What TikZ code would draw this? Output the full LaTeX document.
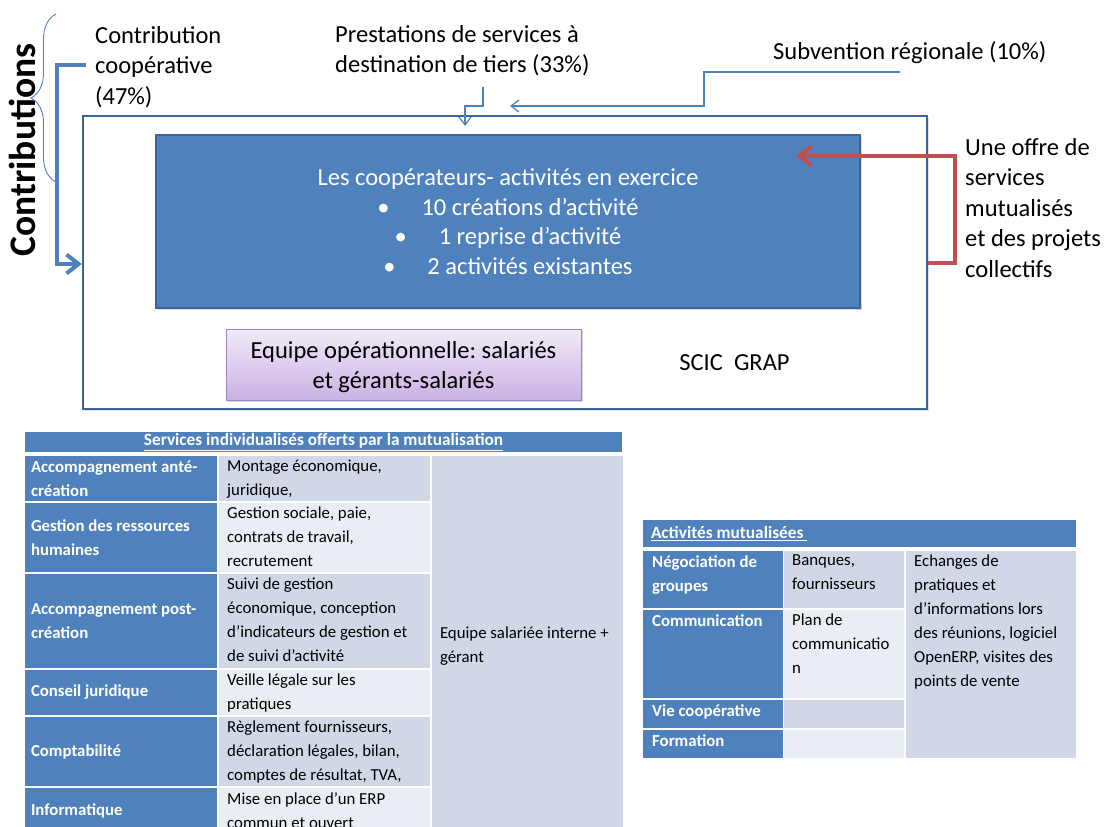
\documentclass[tikz,border=0pt]{standalone}
\usepackage{fontspec}
\setmainfont{Carlito}
\usetikzlibrary{
    positioning,
    arrows.meta,
    decorations.pathreplacing,
    shadows,
    fit
}

\definecolor{accentblue}{HTML}{4F81BD}
\definecolor{frameblue}{HTML}{3D6496}
\definecolor{celldark}{HTML}{D0D8E8}
\definecolor{celllight}{HTML}{E9EDF4}
\definecolor{offerred}{HTML}{C0504D}
\definecolor{lavtop}{HTML}{F1EAF8}
\definecolor{lavbottom}{HTML}{CAB2E3}
\definecolor{lavframe}{HTML}{9E84C2}

\newcommand{\bigfs}{\fontsize{24.5}{30.5}\selectfont}
\newcommand{\tabfs}{\fontsize{16.8}{24}\selectfont}
\frenchspacing

\tikzset{
    lbl/.style={font=\bigfs, align=left, inner sep=0pt},
    cellbox/.style={anchor=north west, inner sep=0pt, outer sep=0pt},
    headcell/.style={cellbox, fill=accentblue, text=white, font=\fontsize{17.3}{24}\selectfont\bfseries},
    keycell/.style={cellbox, fill=accentblue, text=white, font=\tabfs\bfseries, align=flush left, inner xsep=6pt},
    keyA/.style={keycell, minimum width=192pt, text width=180pt},
    keyB/.style={cellbox, fill=accentblue, minimum width=140pt},
    darkcell/.style={cellbox, fill=celldark},
    lightcell/.style={cellbox, fill=celllight},
    celltxt/.style={font=\tabfs, align=left, inner sep=0pt, anchor=north west},
    keytxt/.style={celltxt, text=white, font=\tabfs\bfseries},
    thinflow/.style={accentblue, line width=1.2pt, -{Straight Barb[length=8pt, width=12pt]}},
    coopflow/.style={accentblue, line width=4pt, -{Straight Barb[length=12pt, width=19pt]}},
    offerflow/.style={offerred, line width=4pt, -{Straight Barb[length=12pt, width=19pt]}}
}

\begin{document}
\begin{tikzpicture}[x=1pt, y=-1pt]
    \useasboundingbox (0,0) rectangle (1109,827);
    \clip (0,0) rectangle (1109,827);

    % SCIC frame and its content
    \node[draw=frameblue, line width=2.5pt, fit={(83,116) (927,409)}, inner sep=0pt,
          drop shadow={shadow xshift=1.5pt, shadow yshift=-1.5pt, opacity=0.25}, fill=white] (scic) {};
    \node[fill=accentblue, draw=frameblue, line width=1.5pt, fit={(156,135) (860,308)}, inner sep=0pt,
          drop shadow={shadow xshift=2pt, shadow yshift=-2pt, opacity=0.3}] (members) {};
    \node[text=white, align=center, font=\fontsize{24.5}{29.7}\selectfont] (members-txt) at (members.center)
          {Les coopérateurs- activités en exercice\\
           \textbullet\hspace{1.3em}10 créations d’activité\\
           \textbullet\hspace{1.3em}1 reprise d’activité\\
           \textbullet\hspace{1.3em}2 activités existantes};
    \node[top color=lavtop, bottom color=lavbottom, draw=lavframe, line width=1pt,
          fit={(226,329) (581,400)}, inner sep=0pt,
          drop shadow={shadow xshift=2pt, shadow yshift=-2pt, opacity=0.3}] (crew) {};
    \node[align=center, font=\fontsize{24.5}{30}\selectfont, yshift=-3pt] (crew-txt) at (crew.center)
          {Equipe opérationnelle: salariés\\et gérants-salariés};
    \node[lbl] (grap) at (734.5,363) {SCIC\ \ GRAP};

    % contributions
    \node[rotate=90, font=\fontsize{37.5}{40}\selectfont\bfseries] (contribs) at (22,150) {Contributions};
    \node[lbl, anchor=north west] (coop) at (95,26) {Contribution\\coopérative\\(47\%)};
    \node[lbl, anchor=north west] (presta) at (335,25) {Prestations de services à\\destination de tiers (33\%)};
    \node[lbl, anchor=base west] (subv) at (773,59) {Subvention régionale (10\%)};
    \node[lbl, anchor=north west] (offer) at (965,138) {Une offre de\\services\\mutualisés\\et des projets\\collectifs};

    \coordinate (brace-top) at (56,14);
    \coordinate (brace-bot) at (56,182);
    \draw[accentblue, line width=0.9pt, decorate, decoration={brace, amplitude=25pt}] (brace-bot) -- (brace-top);

    \coordinate (coop-out) at (86,65);
    \coordinate (coop-turn) at (57,264);
    \coordinate (presta-out) at (483,87);
    \coordinate (presta-in) at (465,126);
    \coordinate (subv-out) at (900,72);
    \coordinate (subv-in) at (510,106);
    \coordinate (offer-turn) at (955,263);
    \coordinate (offer-in) at (796,156);

    \draw[coopflow] (coop-out) -| (coop-turn) -- (scic.west |- coop-turn);
    \draw[thinflow] (presta-out) -- ++(0,19) -| (presta-in);
    \draw[thinflow] (subv-out) -- ++(-196,0) |- (subv-in);
    \draw[offerflow] (scic.east |- offer-turn) -- (offer-turn) |- (offer-in);

    % table of individual services
    \node[headcell, minimum width=597pt, minimum height=20pt] (head1) at (25,432)
        {\underline{Services individualisés offerts par la mutualisation}};
    \node[keyA, minimum height=45pt] (k1) at (25,456) {Accompagnement anté-\\création};
    \node[keyA, minimum height=69pt] (k2) at (25,503) {Gestion des ressources\\humaines};
    \node[keyA, minimum height=94pt] (k3) at (25,574) {Accompagnement post-\\création};
    \node[keyA, minimum height=45pt] (k4) at (25,670) {Conseil juridique};
    \node[keyA, minimum height=69pt] (k5) at (25,717) {Comptabilité};
    \node[keyA, minimum height=45pt] (k6) at (25,788) {Informatique};

    \node[darkcell, minimum width=211pt, minimum height=45pt] (s1) at (219,456) {};
    \node[lightcell, minimum width=211pt, minimum height=69pt] (s2) at (219,503) {};
    \node[darkcell, minimum width=211pt, minimum height=94pt] (s3) at (219,574) {};
    \node[lightcell, minimum width=211pt, minimum height=45pt] (s4) at (219,670) {};
    \node[darkcell, minimum width=211pt, minimum height=69pt] (s5) at (219,717) {};
    \node[lightcell, minimum width=211pt, minimum height=45pt] (s6) at (219,788) {};
    \node[celltxt, below right=4pt and 8pt of s1.north west] (s1-txt) {Montage économique,\\juridique,};
    \node[celltxt, below right=4pt and 8pt of s2.north west] (s2-txt) {Gestion sociale, paie,\\contrats de travail,\\recrutement};
    \node[celltxt, below right=4pt and 8pt of s3.north west] (s3-txt) {Suivi de gestion\\économique, conception\\d’indicateurs de gestion et\\de suivi d’activité};
    \node[celltxt, below right=4pt and 8pt of s4.north west] (s4-txt) {Veille légale sur les\\pratiques};
    \node[celltxt, below right=4pt and 8pt of s5.north west] (s5-txt) {Règlement fournisseurs,\\déclaration légales, bilan,\\comptes de résultat, TVA,};
    \node[celltxt, below right=4pt and 8pt of s6.north west] (s6-txt) {Mise en place d’un ERP\\commun et ouvert};

    \node[darkcell, minimum width=191pt, minimum height=380pt, text width=175pt, inner xsep=8pt,
          align=flush left, font=\tabfs] (team) at (432,456) {Equipe salariée interne +\\gérant};

    % table of shared activities
    \node[headcell, minimum width=433pt, minimum height=27pt, text width=417pt, inner xsep=8pt, align=flush left] (head2) at (643,520)
        {\underline{Activités mutualisées\ }};
    \node[keyB, minimum height=57pt] (n1) at (643,551) {};
    \node[keyB, minimum height=88pt] (n2) at (643,610) {};
    \node[keyB, minimum height=28pt] (n3) at (643,700) {};
    \node[keyB, minimum height=28pt] (n4) at (643,730) {};
    \node[keytxt, below right=4pt and 9pt of n1.north west] (n1-txt) {Négociation de\\groupes};
    \node[keytxt, below right=4pt and 9pt of n2.north west] (n2-txt) {Communication};
    \node[keytxt, below right=4pt and 9pt of n3.north west] (n3-txt) {Vie coopérative};
    \node[keytxt, below right=4pt and 9pt of n4.north west] (n4-txt) {Formation};

    \node[darkcell, minimum width=120pt, minimum height=57pt] (m1) at (784,551) {};
    \node[lightcell, minimum width=120pt, minimum height=88pt] (m2) at (784,610) {};
    \node[darkcell, minimum width=120pt, minimum height=28pt] (m3) at (784,700) {};
    \node[lightcell, minimum width=120pt, minimum height=28pt] (m4) at (784,730) {};
    \node[celltxt, below right=4pt and 8pt of m1.north west] (m1-txt) {Banques,\\fournisseurs};
    \node[celltxt, below right=4pt and 8pt of m2.north west] (m2-txt) {Plan de\\communicatio\\n};

    \node[darkcell, minimum width=170pt, minimum height=207pt] (shared) at (906,551) {};
    \node[celltxt, below right=4pt and 8pt of shared.north west] (shared-txt)
        {Echanges de\\pratiques et\\d’informations lors\\des réunions, logiciel\\OpenERP, visites des\\points de vente};
\end{tikzpicture}
\end{document}
